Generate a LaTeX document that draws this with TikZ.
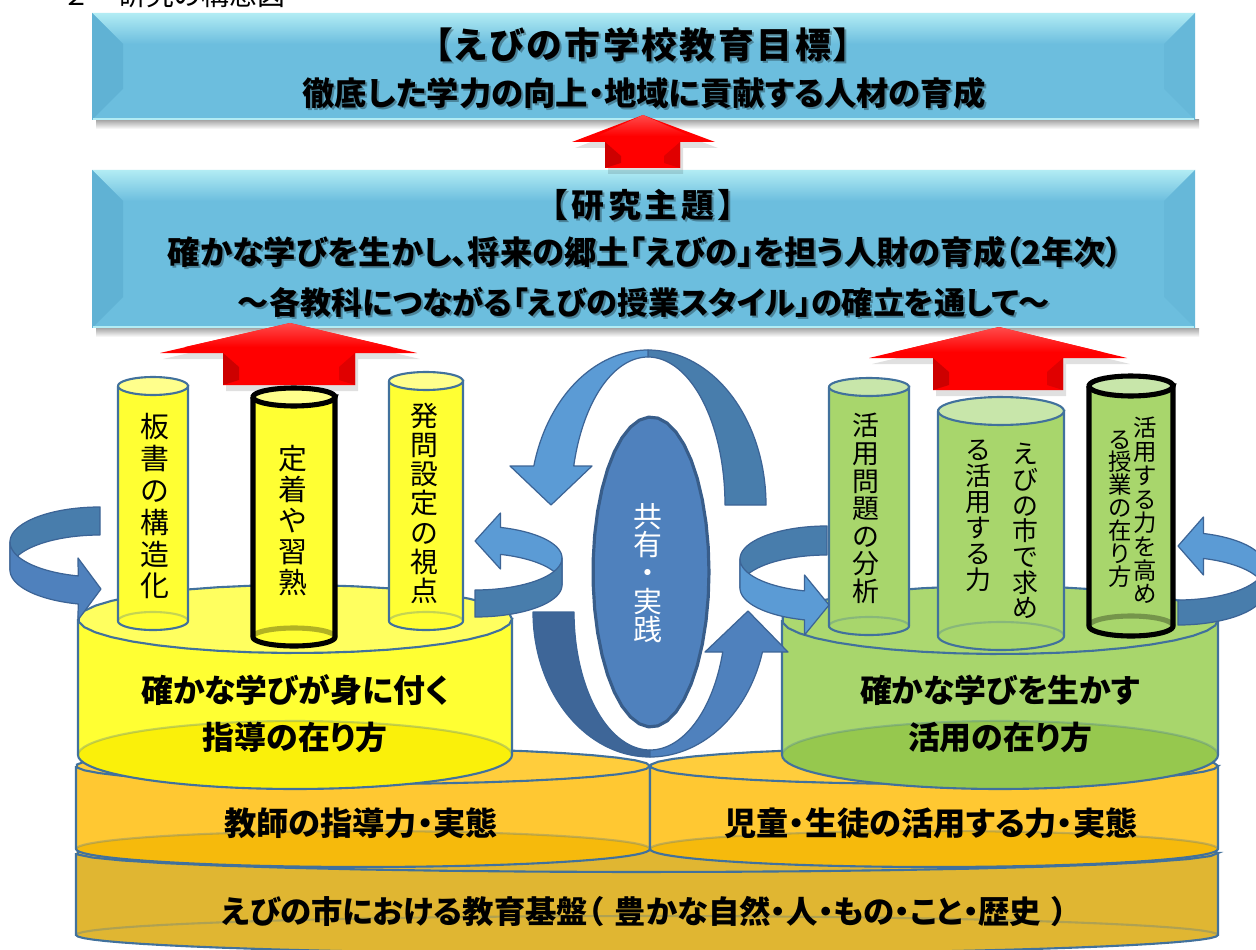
\documentclass[tikz,border=0pt]{standalone}
\usepackage{fontspec}
\setmainfont{Noto Sans CJK JP}
\newfontfamily\gb[RawFeature=+palt]{Noto Sans CJK JP}
\newfontfamily\gr{Noto Sans CJK JP}
\newcommand\pxs[2]{\fontsize{\fpeval{#1*0.5669}pt}{\fpeval{#2*0.5669}pt}\selectfont}
\definecolor{bnfill}{RGB}{108,190,222}
\definecolor{bnlight}{RGB}{178,236,244}
\definecolor{bndark}{RGB}{96,178,212}
\definecolor{bnright}{RGB}{102,184,217}
\definecolor{edgeblue}{RGB}{65,113,156}
\definecolor{ylw}{RGB}{255,255,51}
\definecolor{ylwtop}{RGB}{255,255,95}
\definecolor{ylwsmall}{RGB}{255,255,140}
\definecolor{ylwbot}{RGB}{250,240,10}
\definecolor{grn}{RGB}{168,214,108}
\definecolor{grntop}{RGB}{172,216,112}
\definecolor{grnsmall}{RGB}{200,230,170}
\definecolor{grnbot}{RGB}{150,200,78}
\definecolor{org}{RGB}{255,200,50}
\definecolor{orgtop}{RGB}{255,205,60}
\definecolor{orgbot}{RGB}{246,186,12}
\definecolor{gold}{RGB}{224,182,50}
\definecolor{blA}{RGB}{91,155,213}
\definecolor{blB}{RGB}{72,125,172}
\definecolor{blC}{RGB}{62,102,152}
\definecolor{blD}{RGB}{79,129,189}
\definecolor{arrline}{RGB}{60,100,150}
\definecolor{ellfill}{RGB}{79,129,189}
\definecolor{elledge}{RGB}{56,93,138}
\definecolor{redA}{RGB}{255,0,0}
\definecolor{redD}{RGB}{205,0,0}
\definecolor{redL}{RGB}{255,75,75}
\newcommand\E[6]{plot[domain=#5:#6,samples=40,variable=\t]({(#1)+(#2)*cos(\t)},{(#3)+(#4)*sin(\t)})}
\newcommand\LE[6]{-- plot[domain=#5:#6,samples=40,variable=\t]({(#1)+(#2)*cos(\t)},{(#3)+(#4)*sin(\t)})}
% cylinder: cx rx ytop ybot ry body top bottom edgestyle
\newcommand\cyl[9]{%
 \fill[#6] (#1-#2,#3) -- (#1-#2,#4) \LE{#1}{#2}{#4}{#5}{180}{0} -- (#1+#2,#3) \LE{#1}{#2}{#3}{#5}{0}{-180} -- cycle;
 \fill[#8] \E{#1}{#2}{#4}{#5}{0}{360} -- cycle;
 \draw[#9,opacity=0.3] \E{#1}{#2}{#4}{#5}{180}{360};
 \draw[#9] (#1-#2,#3) -- (#1-#2,#4) \LE{#1}{#2}{#4}{#5}{180}{0} -- (#1+#2,#3);
 \filldraw[fill=#7,#9] \E{#1}{#2}{#3}{#5}{0}{360} -- cycle;
}
% banner: x1 y1 x2 y2 bevel
\newcommand\banner[5]{%
 \shade[top color=black!35, bottom color=white] (#1+4,#4) rectangle (#3+4,#4+9);
 \fill[bnfill] (#1,#2) rectangle (#3,#4);
 \shade[top color=bnlight, bottom color=bnfill] (#1,#2) -- (#3,#2) -- (#3-#5,#2+#5) -- (#1+#5,#2+#5) -- cycle;
 \fill[bndark] (#1,#2) -- (#1+#5,#2+#5) -- (#1+#5,#4-#5) -- (#1,#4) -- cycle;
 \fill[bnright] (#3,#2) -- (#3-#5,#2+#5) -- (#3-#5,#4-#5) -- (#3,#4) -- cycle;
 \draw[bnlight, line width=1.2pt] (#1+1,#4-1) -- (#3-1,#4-1);
}
% red arrow: tipx tipy wingL wingR wingY shaftL shaftR bottom
\newcommand\redarrow[8]{%
 \fill[black, opacity=0.12] (#1+3,#2+6) -- (#4+3,#5+6) -- (#7+3,#5+6) -- (#7+3,#8+6) -- (#6+3,#8+6) -- (#6+3,#5+6) -- (#3+3,#5+6) -- cycle;
 \fill[redA] (#1,#2) -- (#4,#5) -- (#7,#5) -- (#7,#8) -- (#6,#8) -- (#6,#5) -- (#3,#5) -- cycle;
 \shade[top color=redL, bottom color=redA] (#1,#2) -- (#4-25,#5-6) -- (#3+25,#5-6) -- cycle;
 \fill[redD] (#6,#5) -- (#6+16,#5+14) -- (#6+16,#8-5) -- (#6,#8) -- cycle;
 \fill[redA!88!black] (#7,#5) -- (#7-16,#5+14) -- (#7-16,#8-5) -- (#7,#8) -- cycle;
}
\tikzset{
 edge/.style={draw=edgeblue, line width=1.2pt},
 blackedge/.style={draw=black, line width=2.9pt},
 bt/.style={inner sep=0, text=black},
 sh/.style={inner sep=0, text=black, opacity=0.3},
 vt/.style={inner sep=0, align=center, anchor=north, text=black},
 arr/.style={draw=arrline, line width=0.7pt, line join=round},
 captext/.style={inner sep=0, text=black, font=\gb\bfseries\pxs{32}{36}},
}
\begin{document}
\begin{tikzpicture}[x=0.02cm,y=-0.02cm]
\useasboundingbox (0,0) rectangle (1256,949);
\clip (0,0) rectangle (1256,949);
\fill[white] (0,0) rectangle (1256,949);

% clipped heading
\node[anchor=base west, inner sep=0, font=\gr\pxs{28}{34}] (cut) at (62,6) {２　研究の構想図};

% banners
\banner{92}{13}{1195}{120}{31}
\node[sh, font=\gb\bfseries\pxs{36}{40}\addfontfeature{LetterSpace=7}] (t1s) at (645,47) {【えびの市学校教育目標】};
\node[bt, font=\gb\bfseries\pxs{36}{40}\addfontfeature{LetterSpace=7}] (t1) at (643,45) {【えびの市学校教育目標】};
\node[sh, font=\gb\bfseries\pxs{32.5}{36}] (t2s) at (646,95) {徹底した学力の向上・地域に貢献する人材の育成};
\node[bt, font=\gb\bfseries\pxs{32.5}{36}] (t2) at (644,93) {徹底した学力の向上・地域に貢献する人材の育成};

\banner{92}{170}{1195}{328}{31}
\node[sh, font=\gb\bfseries\pxs{33}{36}\addfontfeature{LetterSpace=12}] (r1s) at (645,207) {【研究主題】};
\node[bt, font=\gb\bfseries\pxs{33}{36}\addfontfeature{LetterSpace=12}] (r1) at (643,205) {【研究主題】};
\node[sh, font=\gb\bfseries\pxs{32.5}{36}] (r2s) at (647,254) {確かな学びを生かし、将来の郷土「えびの」を担う人財の育成（2年次）};
\node[bt, font=\gb\bfseries\pxs{32.5}{36}] (r2) at (645,252) {確かな学びを生かし、将来の郷土「えびの」を担う人財の育成（2年次）};
\node[sh, font=\gb\bfseries\pxs{31.3}{36}] (r3s) at (646,304) {～各教科につながる「えびの授業スタイル」の確立を通して～};
\node[bt, font=\gb\bfseries\pxs{31.3}{36}] (r3) at (644,302) {～各教科につながる「えびの授業スタイル」の確立を通して～};

% red arrows
\redarrow{643}{115}{572}{715}{142}{605}{680}{168}
\redarrow{290}{323}{160}{417}{353}{223}{355}{385}
\redarrow{999}{327}{869}{1127}{358}{933}{1063}{390}

% base cylinders
\cyl{647}{571}{853}{935}{19}{gold}{gold}{gold}{edge}
\cyl{363}{287}{766}{849}{18}{org}{orgtop}{orgbot}{edge}
\cyl{934}{284}{766}{849}{18}{org}{orgtop}{orgbot}{edge}
\node[captext, font=\gb\bfseries\pxs{31.5}{36}] (base) at (645,912) {えびの市における教育基盤（\kern0.35em 豊かな自然・人・もの・こと・歴史\kern0.35em ）};
\node[captext, font=\gb\bfseries\pxs{32.4}{36}] (teach) at (361,823) {教師の指導力・実態};
\node[captext, font=\gb\bfseries\pxs{32.4}{36}] (pupil) at (931,823) {児童・生徒の活用する力・実態};

% big cylinders
\cyl{295}{217}{619}{755}{34}{ylw}{ylwtop}{ylwbot}{edge}
\cyl{1000}{218}{620}{755}{34}{grn}{grntop}{grnbot}{edge}
\node[captext] (y1) at (295,690) {確かな学びが身に付く};
\node[captext] (y2) at (295,737) {指導の在り方};
\node[captext] (g1) at (1000,690) {確かな学びを生かす};
\node[captext] (g2) at (1000,737) {活用の在り方};

% small yellow cylinders
\cyl{153}{35}{386}{621}{9}{ylw}{ylwsmall}{ylw}{edge}
\cyl{294}{41}{397}{637}{9}{ylw}{ylwsmall}{ylw}{blackedge}
\cyl{426}{37}{381}{621}{9}{ylw}{ylwsmall}{ylw}{edge}
\node[vt, font=\gr\pxs{29}{32}] (c1) at (155,413) {板\\書\\の\\構\\造\\化};
\node[vt, font=\gr\pxs{29}{31}] (c2) at (293,445) {定\\着\\や\\習\\熟};
\node[vt, font=\gr\pxs{28}{29.2}] (c3) at (424,403) {発\\問\\設\\定\\の\\視\\点};

% small green cylinders
\cyl{869}{40}{387}{626}{9}{grn}{grnsmall}{grn}{edge}
\cyl{1001}{63}{411}{636}{14}{grn}{grnsmall}{grn}{edge}
\cyl{1131}{42}{386}{626}{10}{grn}{grnsmall}{grn}{blackedge}
\node[vt, font=\gr\pxs{27}{27.7}] (d1) at (866,413) {活\\用\\問\\題\\の\\分\\析};
\node[vt, font=\gr\pxs{26}{25.8}] (d2a) at (1025,443) {え\\び\\の\\市\\で\\求\\め};
\node[vt, font=\gr\pxs{26}{26}] (d2b) at (978,440) {る\\活\\用\\す\\る\\力};
\node[vt, font=\gr\pxs{23.5}{23.8}] (d3a) at (1145,417) {活\\用\\す\\る\\力\\を\\高\\め};
\node[vt, font=\gr\pxs{23.5}{23}] (d3b) at (1120,430) {る\\授\\業\\の\\在\\り\\方};

% side ribbon arrows
\fill[blB, arr] \E{100}{90}{542}{35}{270}{180} \LE{100}{90}{570}{35}{180}{270} -- cycle;
\fill[blD, arr] \E{100}{90}{542}{35}{180}{104} -- (78,558) -- (101,589) -- (78,620) -- (78.2,604) \LE{100}{90}{570}{35}{104}{180} -- cycle;
\fill[blA, arr] \E{475}{87}{558}{32}{287}{360} \LE{475}{87}{585}{32}{360}{287} -- (500.4,569) -- (475,541) -- (500.4,513) -- cycle;
\fill[blB, arr] \E{475}{87}{558}{32}{0}{90} \LE{475}{87}{585}{32}{90}{0} -- cycle;
\fill[blB, arr] \E{827}{87}{559}{33}{270}{180} \LE{827}{87}{588}{33}{180}{270} -- cycle;
\fill[blA, arr] \E{827}{87}{559}{33}{180}{105} -- (804.5,575) -- (829,605) -- (804.5,635) -- (804.5,619.9) \LE{827}{87}{588}{33}{105}{180} -- cycle;
\fill[blA, arr] \E{1178}{87}{566}{34}{287}{360} \LE{1178}{87}{591}{34}{360}{287} -- (1203.4,575) -- (1178,546) -- (1203.4,517) -- cycle;
\fill[blB, arr] \E{1178}{87}{566}{34}{0}{90} \LE{1178}{87}{591}{34}{90}{0} -- cycle;

% central circular arrows
\fill[blB, arr] \E{648}{118}{505}{155}{270}{360} -- (725,505) \LE{648}{77}{505}{148}{360}{270} -- cycle;
\fill[blA, arr] \E{648}{118}{505}{155}{270}{194.57} -- (510,466) -- (551,505) -- (592,466) -- (573.7,466) \LE{648}{77}{505}{148}{195.28}{270} -- cycle;
\fill[blC, arr] \E{650}{117}{612}{145}{180}{90} \LE{650}{76}{612}{138}{90}{180} -- cycle;
\fill[blD, arr] \E{650}{117}{612}{145}{90}{16} -- (788,652) -- (748,611) -- (705,652) -- (722.7,652) \LE{650}{76}{612}{138}{16.85}{90} -- cycle;

% centre ellipse
\fill[ellfill, draw=elledge, line width=1.8pt] \E{651}{58}{572}{155}{0}{360} -- cycle;
\node[inner sep=0, align=center, text=white, font=\gr\pxs{29}{28.5}] (share) at (648,573) {共\\有\\・\\実\\践};
\end{tikzpicture}
\end{document}
